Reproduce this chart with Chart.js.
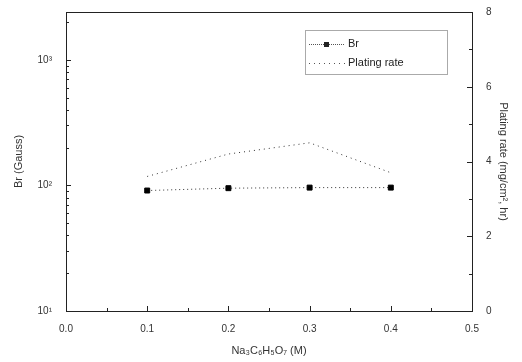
<!DOCTYPE html>
<html>
<head>
<meta charset="utf-8">
<script src="https://cdn.jsdelivr.net/npm/chart.js@4/dist/chart.umd.min.js"></script>
<style>
  html, body { margin: 0; padding: 0; background: #fff; }
  #wrap { width: 522px; height: 362px; }
</style>
</head>
<body>
<div id="wrap"><canvas id="chart" width="522" height="362"></canvas></div>
<script>
// data
const conc = [0.1, 0.2, 0.3, 0.4];
const brValues = [91, 95, 96, 96];
const platingRate = [3.6, 4.2, 4.5, 3.7];
const xTicks = [0, 0.1, 0.2, 0.3, 0.4, 0.5];
const brTicks = [10, 100, 1000];
const rateTicks = [0, 2, 4, 6, 8];

const sup = { 1: '¹', 2: '²', 3: '³' };
const font = { family: 'Liberation Sans, Arial, sans-serif', size: 10 };

// inward tick marks, frame and legend box
const frameTicks = {
  id: 'frameTicks',
  afterDraw(chart) {
    const { ctx, chartArea: a, scales } = chart;
    ctx.save();
    ctx.strokeStyle = '#222';
    ctx.lineWidth = 1;
    ctx.strokeRect(a.left + 0.5, a.top + 0.5, a.right - a.left, a.bottom - a.top);
    ctx.beginPath();
    for (let v = 0; v <= 0.5001; v += 0.05) {
      const x = Math.round(scales.x.getPixelForValue(v)) + 0.5;
      const len = Math.abs(v * 10 - Math.round(v * 10)) < 0.01 ? 5 : 3;
      ctx.moveTo(x, a.bottom); ctx.lineTo(x, a.bottom - len);
    }
    for (let v = 0; v <= 8; v += 1) {
      const y = Math.round(scales.y2.getPixelForValue(v)) + 0.5;
      const len = v % 2 === 0 ? 5 : 3;
      ctx.moveTo(a.right, y); ctx.lineTo(a.right - len, y);
    }
    for (let d = 10; d <= 1000; d *= 10) {
      for (let m = 1; m < 10; m++) {
        const v = d * m;
        if (v > scales.y.max) break;
        const y = Math.round(scales.y.getPixelForValue(v)) + 0.5;
        const len = m === 1 ? 5 : 3;
        ctx.moveTo(a.left, y); ctx.lineTo(a.left + len, y);
      }
    }
    ctx.stroke();

    // legend box
    const lx = 305, ly = 30, lw = 142, lh = 44;
    ctx.setLineDash([1, 1]);
    ctx.strokeStyle = '#555';
    ctx.strokeRect(lx + 0.5, ly + 0.5, lw, lh);
    ctx.fillStyle = '#222';
    ctx.font = '11px Liberation Sans, Arial, sans-serif';
    ctx.textBaseline = 'middle';
    // Br entry
    ctx.beginPath();
    ctx.moveTo(lx + 4, ly + 14.5); ctx.lineTo(lx + 40, ly + 14.5);
    ctx.stroke();
    ctx.fillRect(lx + 19, ly + 12, 5, 5);
    ctx.fillText(chart.data.datasets[0].label, lx + 43, ly + 14);
    // plating rate entry
    ctx.setLineDash([1, 4]);
    ctx.beginPath();
    ctx.moveTo(lx + 4, ly + 33.5); ctx.lineTo(lx + 40, ly + 33.5);
    ctx.stroke();
    ctx.fillText(chart.data.datasets[1].label, lx + 43, ly + 33);
    ctx.restore();
  }
};

new Chart(document.getElementById('chart'), {
  type: 'line',
  data: {
    datasets: [{
      label: 'Br',
      data: conc.map((c, i) => ({ x: c, y: brValues[i] })),
      yAxisID: 'y',
      borderColor: '#333',
      borderWidth: 1,
      borderDash: [1, 3],
      pointStyle: 'rect',
      pointRadius: 3.5,
      pointBackgroundColor: '#000',
      pointBorderColor: '#000'
    }, {
      label: 'Plating rate',
      data: conc.map((c, i) => ({ x: c, y: platingRate[i] })),
      yAxisID: 'y2',
      borderColor: '#333',
      borderWidth: 1,
      borderDash: [1, 4],
      pointRadius: 0
    }]
  },
  options: {
    responsive: false,
    animation: false,
    layout: { padding: { top: 12, right: 0, bottom: 0, left: 0 } },
    plugins: { legend: { display: false }, tooltip: { enabled: false } },
    scales: {
      x: {
        type: 'linear',
        min: 0, max: 0.5,
        afterBuildTicks: s => { s.ticks = xTicks.map(v => ({ value: v })); },
        afterFit: s => { s.height = 51; },
        ticks: { color: '#333', font, padding: 4, callback: v => v.toFixed(1) },
        grid: { display: false },
        border: { display: false },
        title: { display: true, text: 'Na₃C₆H₅O₇ (M)', color: '#333', font: { ...font, size: 11 }, padding: { top: 8 } }
      },
      y: {
        type: 'logarithmic',
        position: 'left',
        min: 10, max: 2400,
        afterBuildTicks: s => { s.ticks = brTicks.map(v => ({ value: v })); },
        afterFit: s => { s.width = 66; },
        ticks: { color: '#333', font, padding: 6, callback: v => '10' + sup[Math.round(Math.log10(v))] },
        grid: { display: false },
        border: { display: false },
        title: { display: true, text: 'Br (Gauss)', color: '#333', font: { ...font, size: 11 }, padding: { top: 12, bottom: 4 } }
      },
      y2: {
        type: 'linear',
        position: 'right',
        min: 0, max: 8,
        afterBuildTicks: s => { s.ticks = rateTicks.map(v => ({ value: v })); },
        afterFit: s => { s.width = 50; },
        ticks: { color: '#333', font, padding: 6 },
        grid: { display: false },
        border: { display: false },
        title: { display: true, text: 'Plating rate (mg/cm², hr)', color: '#333', font: { ...font, size: 11 }, padding: { top: 12 } }
      }
    }
  },
  plugins: [frameTicks]
});
</script>
</body>
</html>
